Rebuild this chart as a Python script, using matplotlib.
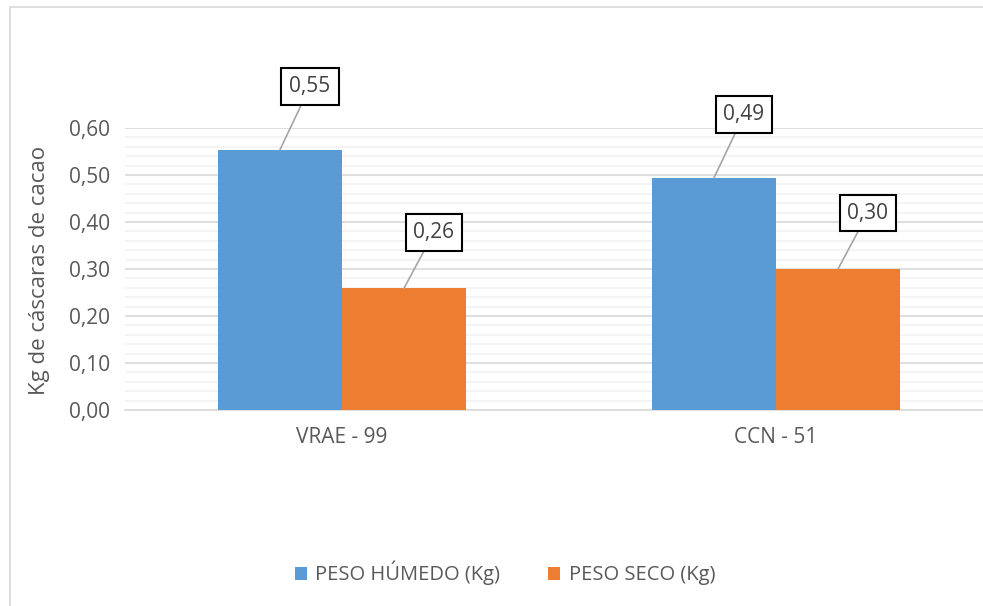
import matplotlib.pyplot as plt
from matplotlib.patches import Rectangle
from matplotlib.ticker import FuncFormatter, MultipleLocator
import numpy as np

plt.rcParams['font.family'] = ['Open Sans', 'DejaVu Sans']

categories = ['VRAE - 99', 'CCN - 51']
series_names = ['PESO HÚMEDO (Kg)', 'PESO SECO (Kg)']
peso_humedo = [0.554, 0.494]
peso_seco = [0.259, 0.300]
label_text = [['0,55', '0,49'], ['0,26', '0,30']]

colors = ['#5B9BD5', '#ED7D31']
txt = '#595959'

fig = plt.figure(figsize=(9.83, 6.06), dpi=100)
# chart-area border (cut by the screenshot on the right and bottom)
fig.patches.append(Rectangle((10 / 983, -0.05), 1.05, 1 - 7 / 606 + 0.05,
                             transform=fig.transFigure, fill=False,
                             edgecolor='#D9D9D9', linewidth=1.2))

ax = fig.add_axes([125 / 983, 1 - 410 / 606, 868 / 983, 282 / 606])

x = np.arange(len(categories))
w = 0.2857
offsets = [(30, 63), (30, 56)]
for i, vals in enumerate([peso_humedo, peso_seco]):
    pos = x + (i - 0.5) * w
    ax.bar(pos, vals, w, color=colors[i], label=series_names[i], zorder=3)
    for j, (px, v) in enumerate(zip(pos, vals)):
        ax.annotate(label_text[i][j], xy=(px, v), xytext=offsets[i],
                    textcoords='offset pixels', ha='center', va='center',
                    fontsize=15, color='#404040', zorder=5,
                    bbox=dict(boxstyle='square,pad=0.38', fc='white',
                              ec='black', lw=1.5),
                    arrowprops=dict(arrowstyle='-', color='#A5A5A5', lw=1.2,
                                    shrinkA=0, shrinkB=0))

ax.set_xlim(-0.5, 1.5)
ax.set_ylim(0, 0.6)
ax.yaxis.set_major_locator(MultipleLocator(0.1))
ax.yaxis.set_minor_locator(MultipleLocator(0.02))
ax.yaxis.set_major_formatter(FuncFormatter(lambda v, p: f'{v:.2f}'.replace('.', ',')))
ax.grid(axis='y', which='major', color='#D9D9D9', lw=1.2, zorder=0)
ax.grid(axis='y', which='minor', color='#F2F2F2', lw=1.2, zorder=0)
ax.set_axisbelow(True)
ax.set_xticks(x)
ax.set_xticklabels(categories)
ax.tick_params(axis='both', which='both', length=0, labelsize=15, colors=txt)
ax.tick_params(axis='x', pad=12)
ax.tick_params(axis='y', pad=11)
for s in ['top', 'right', 'left']:
    ax.spines[s].set_visible(False)
ax.spines['bottom'].set_color('#D9D9D9')
ax.spines['bottom'].set_linewidth(1.2)

fig.text(40 / 983, 1 - 270 / 606, 'Kg de cáscaras de cacao', rotation=90,
         ha='center', va='center', fontsize=16, color=txt)

fig.legend(loc='center', bbox_to_anchor=(505 / 983, 1 - 573 / 606), ncol=2,
           frameon=False, fontsize=14.5, labelcolor=txt, handlelength=0.6,
           handleheight=0.6, handletextpad=0.4, columnspacing=2.4)

fig.savefig('out.png', dpi=100)
